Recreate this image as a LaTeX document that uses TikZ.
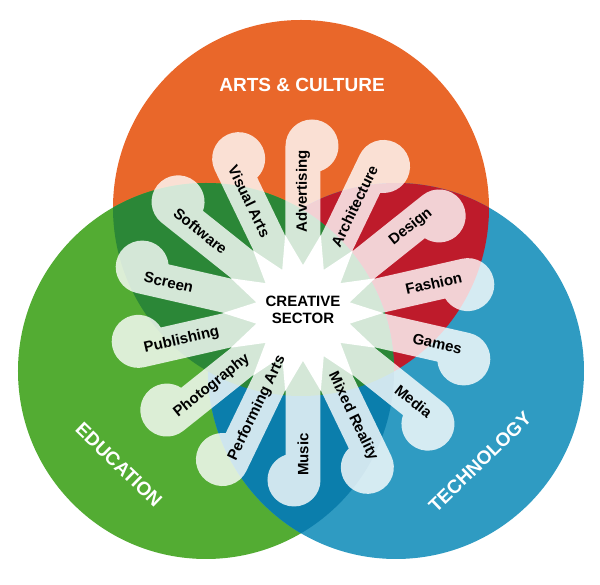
\documentclass[tikz,border=0pt]{standalone}
\usepackage{fontspec}
\setmainfont{Liberation Sans}
\usetikzlibrary{shapes}
\usetikzlibrary{positioning}
\definecolor{artsorange}{RGB}{233,103,42}
\definecolor{edugreen}{RGB}{83,172,51}
\definecolor{techblue}{RGB}{47,155,194}
\definecolor{darkgreen}{RGB}{43,135,55}
\definecolor{darkred}{RGB}{190,27,43}
\definecolor{darkblue}{RGB}{11,126,172}
\tikzset{
    spoke/.style = {fill=white, fill opacity=0.8},
    spokepath/.style = {insert path={(0,17.5) -- (167,17.5) arc[start angle=90, end angle=-161.3, radius=26.5] -- (0,-17.5) -- cycle}},
    spoketxt/.style = {inner sep=0pt, font=\fontsize{15}{18}\selectfont\bfseries, text=black},
    outtxt/.style = {spoketxt, anchor=east}, % right half, reads outwards
    intxt/.style = {spoketxt, anchor=west}, % left half, reads inwards
    ringtxt/.style = {font=\fontsize{19}{22}\selectfont\bfseries, text=white},
    burst/.style = {star, star points=14, star point ratio=1.67, minimum size=160pt, inner sep=0pt, fill=white, rotate=12.857},
    hubtxt/.style = {align=center, font=\fontsize{15}{17.6}\selectfont\bfseries, text=black}
}
\begin{document}
\begin{tikzpicture}[x=1pt, y=1pt]
%
\coordinate (arts) at (-2,105);
\coordinate (edu) at (-97,-58);
\coordinate (tech) at (93,-58);
%
\fill[artsorange] (arts) circle (188);
\fill[edugreen] (edu) circle (188);
\fill[techblue] (tech) circle (188);
\begin{scope} \clip (arts) circle (188); \fill[darkred] (tech) circle (188); \end{scope}
\begin{scope} \clip (edu) circle (188); \fill[darkblue] (tech) circle (188); \end{scope}
\begin{scope} \clip (arts) circle (188); \fill[darkgreen] (edu) circle (188); \end{scope}
%
\node[ringtxt] (artslbl) at (-1,228) {ARTS \& CULTURE};
\node[ringtxt, rotate=-44] (edulbl) at (-184,-152) {EDUCATION};
\node[ringtxt, rotate=44] (techlbl) at (177,-149) {TECHNOLOGY};
%
\fill[spoke, rotate=90, spokepath];
\fill[spoke, rotate=115.714, spokepath];
\fill[spoke, rotate=141.429, spokepath];
\fill[spoke, rotate=167.143, spokepath];
\fill[spoke, rotate=192.857, spokepath];
\fill[spoke, rotate=218.571, spokepath];
\fill[spoke, rotate=244.286, spokepath];
\fill[spoke, rotate=270, spokepath];
\fill[spoke, rotate=295.714, spokepath];
\fill[spoke, rotate=321.429, spokepath];
\fill[spoke, rotate=347.143, spokepath];
\fill[spoke, rotate=12.857, spokepath];
\fill[spoke, rotate=38.571, spokepath];
\fill[spoke, rotate=64.286, spokepath];
%
\node[burst] (burst) at (0,0) {};
\node[hubtxt] (hub) at (0,3) {CREATIVE\\SECTOR};
%
\node[outtxt, rotate=90] (adv) at (90:163) {Advertising};
\node[intxt, rotate=-64.286] (vis) at (115.714:163) {Visual Arts};
\node[intxt, rotate=-38.571] (soft) at (141.429:163) {Software};
\node[intxt, rotate=-12.857] (scr) at (167.143:163) {Screen};
\node[intxt, rotate=12.857] (pub) at (192.857:163) {Publishing};
\node[intxt, rotate=38.571] (pho) at (218.571:163) {Photography};
\node[intxt, rotate=64.286] (perf) at (244.286:163) {Performing Arts};
\node[intxt, rotate=90] (mus) at (270:163) {Music};
\node[outtxt, rotate=-64.286] (mix) at (295.714:163) {Mixed Reality};
\node[outtxt, rotate=-38.571] (med) at (321.429:163) {Media};
\node[outtxt, rotate=-12.857] (gam) at (347.143:163) {Games};
\node[outtxt, rotate=12.857] (fas) at (12.857:163) {Fashion};
\node[outtxt, rotate=38.571] (des) at (38.571:163) {Design};
\node[outtxt, rotate=64.286] (archi) at (64.286:163) {Architecture};

\path[use as bounding box] (-303,-272) rectangle (297,313);

\end{tikzpicture}
\end{document}
